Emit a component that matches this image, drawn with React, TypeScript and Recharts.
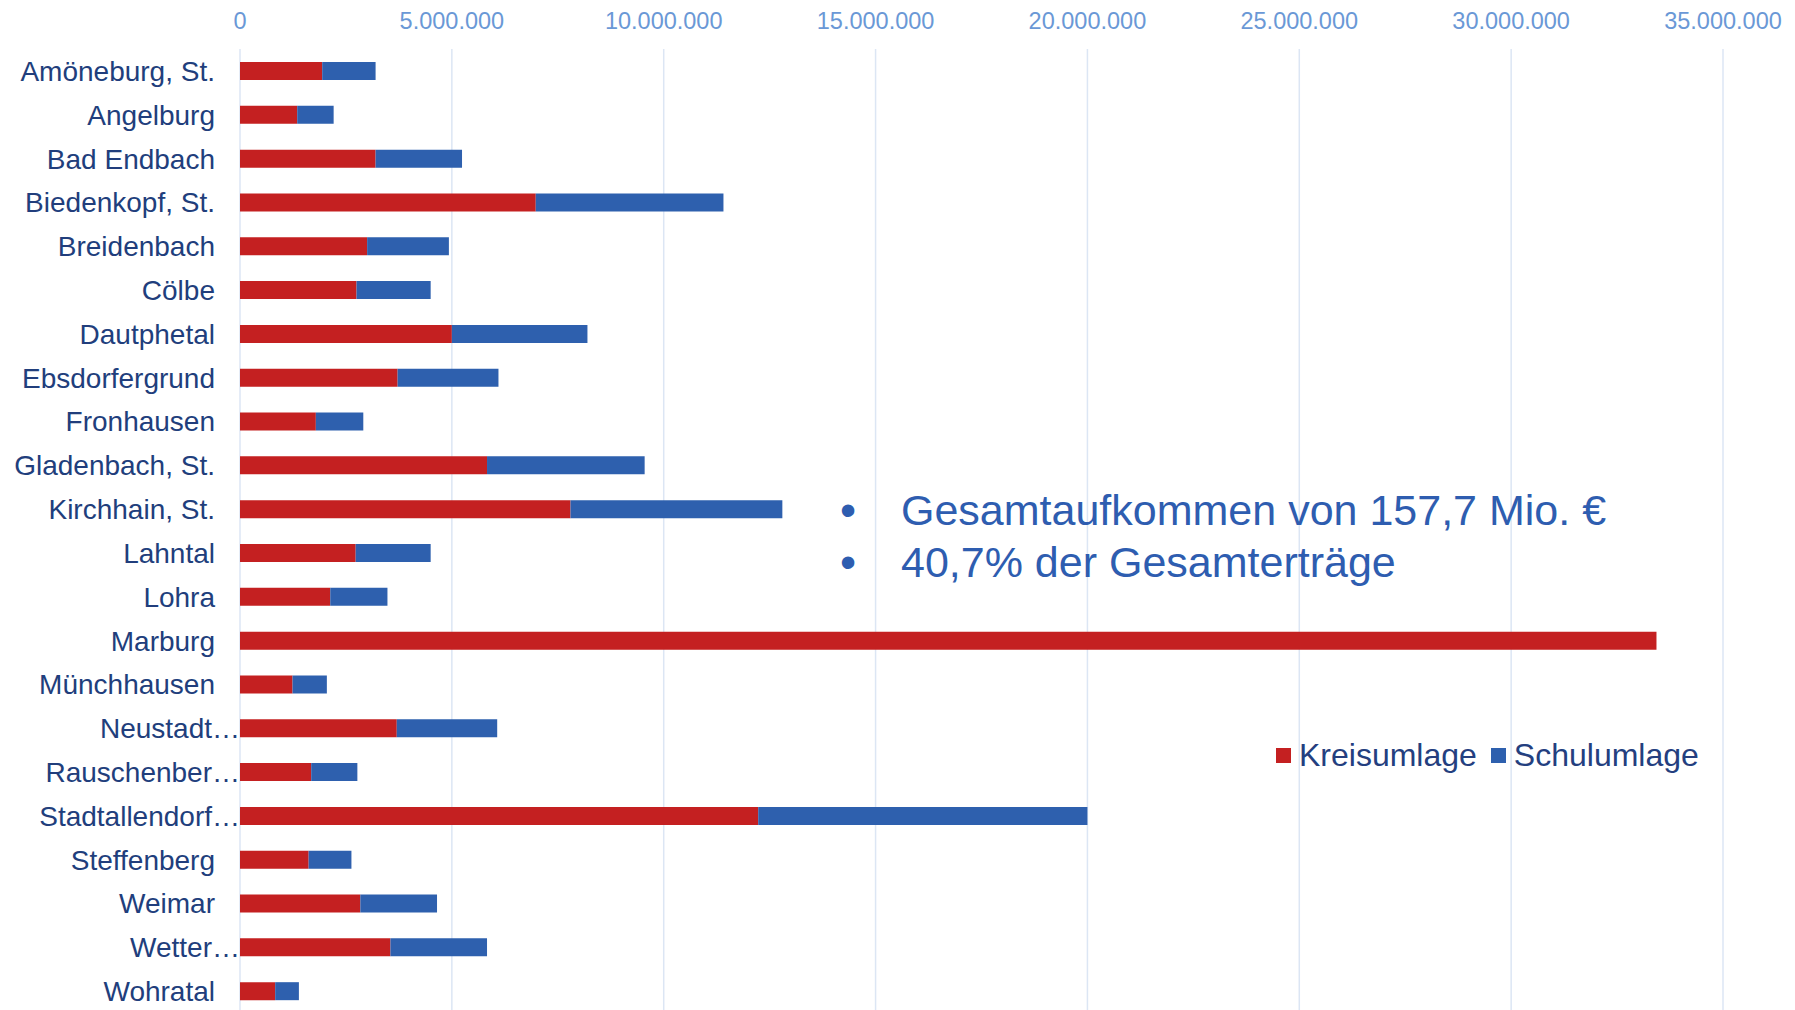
import { BarChart, Bar, XAxis, YAxis, CartesianGrid } from 'recharts';

const categories = [
  'Amöneburg, St.', 'Angelburg', 'Bad Endbach', 'Biedenkopf, St.', 'Breidenbach', 'Cölbe',
  'Dautphetal', 'Ebsdorfergrund', 'Fronhausen', 'Gladenbach, St.', 'Kirchhain, St.', 'Lahntal',
  'Lohra', 'Marburg', 'Münchhausen', 'Neustadt…', 'Rauschenber…', 'Stadtallendorf…',
  'Steffenberg', 'Weimar', 'Wetter…', 'Wohratal',
];

const kreisumlage = [
  1940000, 1350000, 3200000, 6980000, 3000000, 2750000,
  5000000, 3720000, 1790000, 5830000, 7800000, 2730000,
  2130000, 33430000, 1240000, 3700000, 1680000, 12230000,
  1620000, 2840000, 3550000, 830000,
];

const schulumlage = [
  1260000, 860000, 2040000, 4430000, 1930000, 1750000,
  3200000, 2380000, 1120000, 3720000, 5000000, 1770000,
  1350000, 0, 810000, 2370000, 1090000, 7770000,
  1010000, 1810000, 2280000, 560000,
];

const xTicks = [0, 5000000, 10000000, 15000000, 20000000, 25000000, 30000000, 35000000];

const bullets = ['Gesamtaufkommen von 157,7 Mio. €', '40,7% der Gesamterträge'];

const RED = '#C42021';
const BLUE = '#2E60AE';
const FONT = '"Liberation Sans", Arial, sans-serif';

const data = categories.map((name, i) => ({
  name,
  kreis: kreisumlage[i],
  schul: schulumlage[i],
}));

const fmt = (v: number) => String(v).replace(/\B(?=(\d{3})+(?!\d))/g, '.');

const XTick = ({ x, payload }: any) => (
  <text x={x} y={29} textAnchor="middle" fontSize={23.5} fill="#6A98D6" fontFamily={FONT}>
    {fmt(payload.value)}
  </text>
);

const YTick = ({ y, payload }: any) => {
  const cut = String(payload.value).endsWith('…');
  return (
    <text x={cut ? 240 : 215} y={y + 10} textAnchor="end" fontSize={28} fill="#213E7C" fontFamily={FONT}>
      {payload.value}
    </text>
  );
};

export default function App() {
  return (
    <div style={{ position: 'fixed', left: 0, top: 0, width: 1795, height: 1010, overflow: 'hidden', background: '#fff', fontFamily: FONT }}>
      <BarChart
        width={1795}
        height={1020}
        data={data}
        layout="vertical"
        margin={{ top: 0, right: 72, bottom: 7, left: 0 }}
        barCategoryGap={0}
      >
        <CartesianGrid horizontal={false} stroke="#DCE6F4" strokeWidth={1.5} />
        <XAxis
          type="number"
          orientation="top"
          domain={[0, 35000000]}
          ticks={xTicks}
          height={49}
          axisLine={false}
          tickLine={false}
          tick={<XTick />}
          interval={0}
        />
        <YAxis
          type="category"
          dataKey="name"
          width={240}
          axisLine={false}
          tickLine={false}
          tick={<YTick />}
          interval={0}
        />
        <Bar dataKey="kreis" name="Kreisumlage" stackId="a" fill={RED} barSize={18} isAnimationActive={false} />
        <Bar dataKey="schul" name="Schulumlage" stackId="a" fill={BLUE} barSize={18} isAnimationActive={false} />
      </BarChart>

      <div style={{ position: 'absolute', left: 830, top: 485, color: '#2E5DB0', fontSize: 43, lineHeight: '51.5px' }}>
        {bullets.map((b) => (
          <div key={b} style={{ display: 'flex', whiteSpace: 'nowrap' }}>
            <span style={{ width: 71, flexShrink: 0, textAlign: 'left', paddingLeft: 10, boxSizing: 'border-box', fontSize: 46 }}>•</span>
            <span>{b}</span>
          </div>
        ))}
      </div>

      <div style={{ position: 'absolute', left: 1276, top: 737, display: 'flex', alignItems: 'center', color: '#243F7F', fontSize: 32, whiteSpace: 'nowrap' }}>
        <span style={{ width: 15, height: 15, background: RED, display: 'inline-block', marginRight: 8 }} />
        <span style={{ marginRight: 14 }}>Kreisumlage</span>
        <span style={{ width: 15, height: 15, background: BLUE, display: 'inline-block', marginRight: 8 }} />
        <span>Schulumlage</span>
      </div>
    </div>
  );
}
